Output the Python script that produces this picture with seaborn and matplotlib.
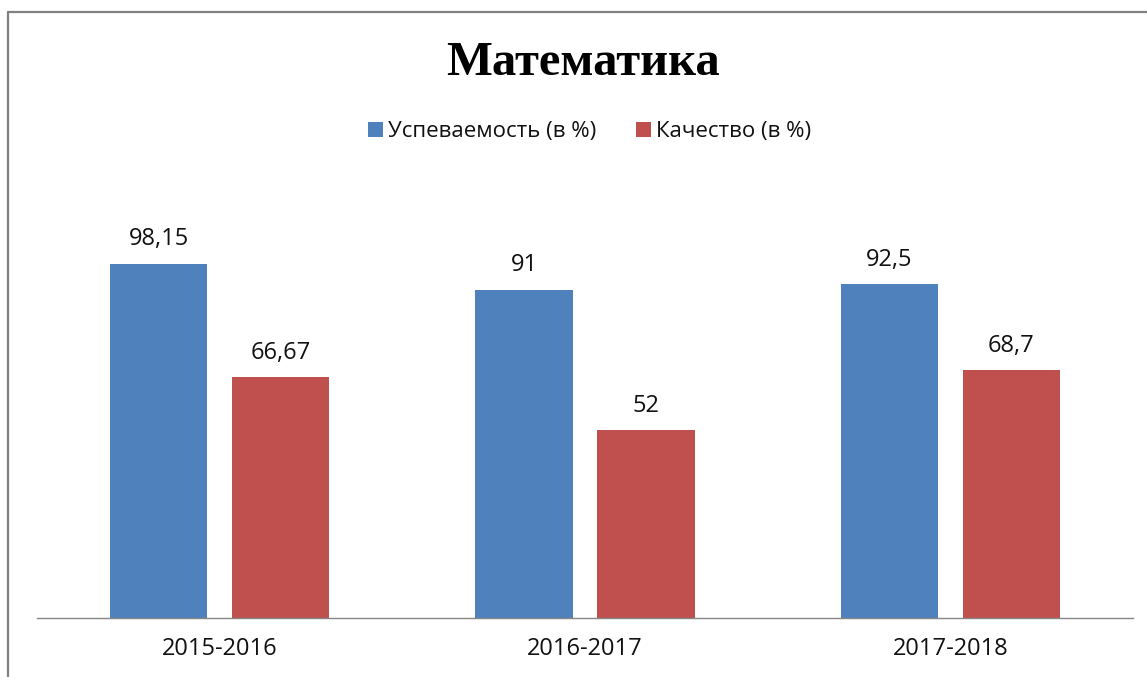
import matplotlib
matplotlib.use("Agg")
import matplotlib.pyplot as plt
import seaborn as sns
import pandas as pd
from matplotlib.lines import Line2D

years = ["2015-2016", "2016-2017", "2017-2018"]
series = ["Успеваемость (в %)", "Качество (в %)"]
uspevaemost = [98.15, 91, 92.5]
kachestvo = [66.67, 52, 68.7]
colors = ["#4F81BD", "#C0504D"]

df = pd.DataFrame({
    "year": years * 2,
    "series": [series[0]] * 3 + [series[1]] * 3,
    "value": uspevaemost + kachestvo,
})

sns.set_theme(style="white")
plt.rcParams["font.family"] = ["Open Sans", "DejaVu Sans"]

W, H = 1147, 677
fig = plt.figure(figsize=(W / 100, H / 100), dpi=100)
ax = fig.add_axes([37 / W, 59 / H, 1096 / W, 433 / H])

sns.barplot(data=df, x="year", y="value", hue="series", palette=colors,
            width=0.667, gap=0.2, linewidth=0, saturation=1, ax=ax,
            legend=True, errorbar=None)

ax.set_xlim(-0.5, 2.5)
ax.set_ylim(0, 120)
ax.set_xlabel("")
ax.set_ylabel("")
ax.set_yticks([])
for s in ["top", "left", "right"]:
    ax.spines[s].set_visible(False)
ax.spines["bottom"].set_color("#868686")
ax.spines["bottom"].set_linewidth(1.0)
ax.tick_params(axis="x", length=0, pad=14, labelsize=17, labelcolor="#111111")

for cont in ax.containers:
    ax.bar_label(cont, labels=[f"{v:g}".replace(".", ",") for v in cont.datavalues],
                 padding=9, fontsize=17, color="#111111")

handles, labels = ax.get_legend_handles_labels()
ax.get_legend().remove()
fig.legend(handles, labels, loc="center", bbox_to_anchor=(589.5 / W, 1 - 132 / H),
           ncol=2, frameon=False, fontsize=16, handlelength=0.68, handleheight=0.68,
           handletextpad=0.2, columnspacing=1.8, labelcolor="#111111")

fig.text(583 / W, 1 - 63 / H, "Математика", ha="center", va="center", color="black",
         fontsize=35, fontweight="bold", family=["Liberation Serif", "DejaVu Serif"])

# chart border (left and top edges visible)
fig.add_artist(Line2D([8 / W, 8 / W], [0, 1 - 12 / H], transform=fig.transFigure,
                      color="#808080", linewidth=1.6))
fig.add_artist(Line2D([8 / W, 1], [1 - 12 / H, 1 - 12 / H], transform=fig.transFigure,
                      color="#808080", linewidth=1.6))

fig.savefig("out.png", dpi=100)
